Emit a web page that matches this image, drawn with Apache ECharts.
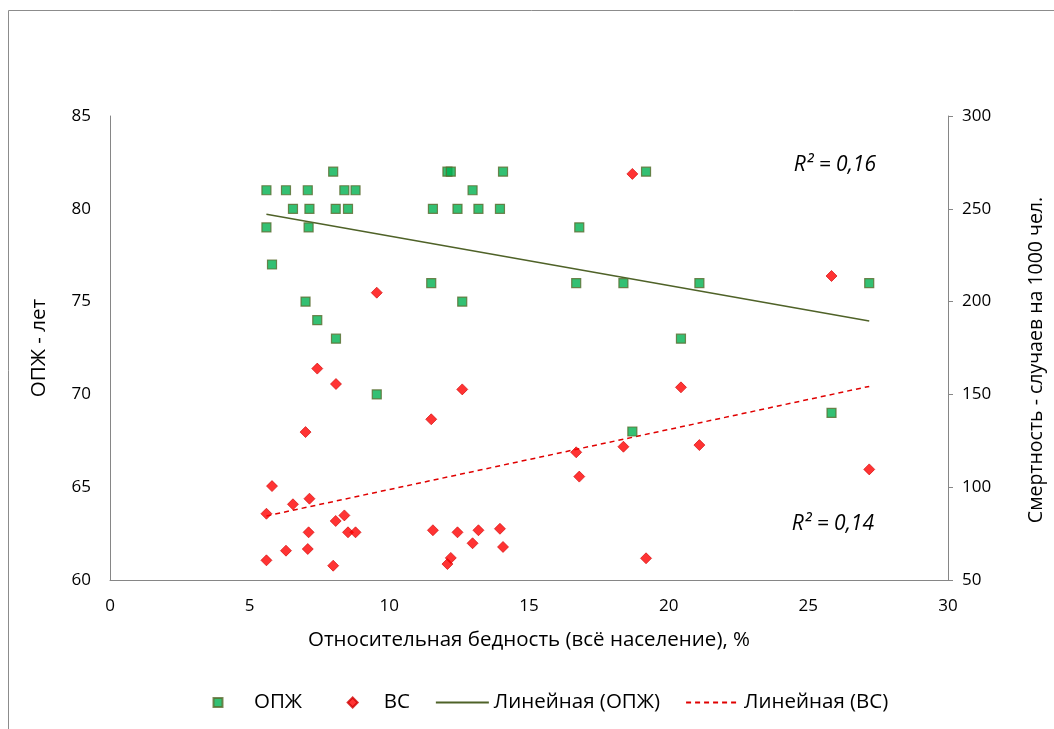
<!DOCTYPE html>
<html><head><meta charset="utf-8">
<script src="https://cdn.jsdelivr.net/npm/echarts@6/dist/echarts.min.js"></script>
<style>html,body{margin:0;padding:0;background:#fff}#c{width:1054px;height:729px}</style>
</head><body><div id="c"></div>
<script>
// Относительная бедность (всё население), %
const poverty = [5.6, 5.6, 5.8, 6.3, 6.55, 7.0, 7.08, 7.11, 7.14, 7.42, 7.99, 8.08, 8.09, 8.39, 8.52, 8.79, 9.55, 11.5, 11.56, 12.08, 12.2, 12.44, 12.61, 12.98, 13.19, 13.96, 14.07, 16.69, 16.8, 18.38, 18.7, 19.19, 20.44, 21.1, 25.83, 27.18];
// ОПЖ - лет
const lifeExp = [81, 79, 77, 81, 80, 75, 81, 79, 80, 74, 82, 80, 73, 81, 80, 81, 70, 76, 80, 82, 82, 80, 75, 81, 80, 80, 82, 76, 79, 76, 68, 82, 73, 76, 69, 76];
// ВС - смертность, случаев на 1000 чел.
const mortality = [60.6, 85.7, 100.6, 65.8, 90.8, 129.7, 66.7, 75.7, 93.8, 163.9, 57.7, 81.8, 155.6, 84.8, 75.7, 75.7, 204.8, 136.6, 76.8, 58.6, 61.9, 75.7, 152.7, 69.8, 76.8, 77.6, 67.8, 118.8, 105.7, 121.8, 268.8, 61.7, 153.8, 122.7, 213.8, 109.6];

const seriesNames = ['ОПЖ', 'ВС', 'Линейная (ОПЖ)', 'Линейная (ВС)'];
const xAxisName = 'Относительная бедность (всё население), %';
const yLeftName = 'ОПЖ - лет';
const yRightName = 'Смертность - случаев на 1000 чел.';
const r2Labels = ['R² = 0,16', 'R² = 0,14'];

function linFit(xs, ys) {
  const n = xs.length;
  let sx = 0, sy = 0, sxx = 0, sxy = 0;
  for (let i = 0; i < n; i++) { sx += xs[i]; sy += ys[i]; sxx += xs[i] * xs[i]; sxy += xs[i] * ys[i]; }
  const b = (n * sxy - sx * sy) / (n * sxx - sx * sx);
  const a = (sy - b * sx) / n;
  const x0 = Math.min(...xs), x1 = Math.max(...xs);
  return [[x0, a + b * x0], [x1, a + b * x1]];
}

const F = 'Open Sans';
const FS = 17;     // tick labels
const NS = 20.5;   // titles, legend
const axisCol = '#868686';
// legend icons inside a 53x10 slot (first two moves fix the bounding box)
const squareIcon = 'path://M0,0M53,10M17.5,0.5L26.5,0.5L26.5,9.5L17.5,9.5Z';
const diamondIcon = 'path://M0,0M53,10M27,-0.5L32.5,5L27,10.5L21.5,5Z';

const chart = echarts.init(document.getElementById('c'));
chart.setOption({
  animation: false,
  textStyle: { fontFamily: F, color: '#000' },
  grid: { left: 110, right: 104, top: 116, bottom: 149, containLabel: false },
  graphic: [
    { type: 'rect', shape: { x: 8.5, y: 10.5, width: 1100, height: 800 }, style: { fill: 'none', stroke: '#8c8c8c', lineWidth: 1 }, silent: true },
    { type: 'text', right: 1054 - 876, top: 155, style: { text: r2Labels[0], font: 'italic 21px ' + F, fill: '#000' } },
    { type: 'text', right: 1054 - 874, top: 514, style: { text: r2Labels[1], font: 'italic 21px ' + F, fill: '#000' } }
  ],
  legend: {
    left: 190, top: 687, itemWidth: 53, itemHeight: 10, itemGap: 25,
    textStyle: { fontFamily: F, fontSize: NS, color: '#000' },
    data: [
      { name: seriesNames[0], icon: squareIcon },
      { name: seriesNames[1], icon: diamondIcon },
      { name: seriesNames[2] },
      { name: seriesNames[3] }
    ]
  },
  xAxis: {
    type: 'value', min: 0, max: 30, interval: 5,
    name: xAxisName, nameLocation: 'middle', nameGap: 50, nameMoveOverlap: false,
    nameTextStyle: { fontSize: NS, fontFamily: F, color: '#000' },
    axisLine: { show: true, onZero: false, lineStyle: { color: axisCol } },
    axisTick: { show: false }, splitLine: { show: false },
    axisLabel: { fontSize: FS, color: '#000', margin: 18 }
  },
  yAxis: [
    {
      type: 'value', min: 60, max: 85, interval: 5, position: 'left',
      name: yLeftName, nameLocation: 'middle', nameGap: 60, nameRotate: 90, nameMoveOverlap: false,
      nameTextStyle: { fontSize: NS, fontFamily: F, color: '#000' },
      axisLine: { show: true, lineStyle: { color: axisCol } },
      axisTick: { show: false }, splitLine: { show: false },
      axisLabel: { fontSize: FS, color: '#000', margin: 19 }
    },
    {
      type: 'value', min: 50, max: 300, interval: 50, position: 'right',
      name: yRightName, nameLocation: 'middle', nameGap: 78, nameRotate: 90, nameMoveOverlap: false,
      nameTextStyle: { fontSize: 19.5, fontFamily: F, color: '#000', padding: [0, 24, 0, 0] },
      axisLine: { show: true, lineStyle: { color: axisCol } },
      axisTick: { show: true, length: 5, lineStyle: { color: axisCol } }, splitLine: { show: false },
      axisLabel: { fontSize: FS, color: '#000', margin: 14 }
    }
  ],
  series: [
    {
      name: seriesNames[0], type: 'scatter', yAxisIndex: 0, symbol: 'rect', symbolSize: 9,
      itemStyle: { color: '#00B050', borderColor: '#5A6B2E', borderWidth: 1.2 },
      data: poverty.map((x, i) => [x, lifeExp[i]]), z: 3
    },
    {
      name: seriesNames[1], type: 'scatter', yAxisIndex: 1, symbol: 'diamond', symbolSize: 11,
      itemStyle: { color: '#FF0000', borderColor: '#D00000', borderWidth: 0.8 },
      data: poverty.map((x, i) => [x, mortality[i]]), z: 3
    },
    {
      name: seriesNames[2], type: 'line', yAxisIndex: 0, symbol: 'none', silent: true,
      lineStyle: { color: '#4F6228', width: 1.5, type: 'solid' }, itemStyle: { color: '#4F6228', opacity: 0 },
      data: linFit(poverty, lifeExp), z: 2
    },
    {
      name: seriesNames[3], type: 'line', yAxisIndex: 1, symbol: 'none', silent: true,
      lineStyle: { color: '#E00000', width: 1.5, type: [5, 4] }, itemStyle: { color: '#E00000', opacity: 0 },
      data: linFit(poverty, mortality), z: 2
    }
  ]
});
</script></body></html>
